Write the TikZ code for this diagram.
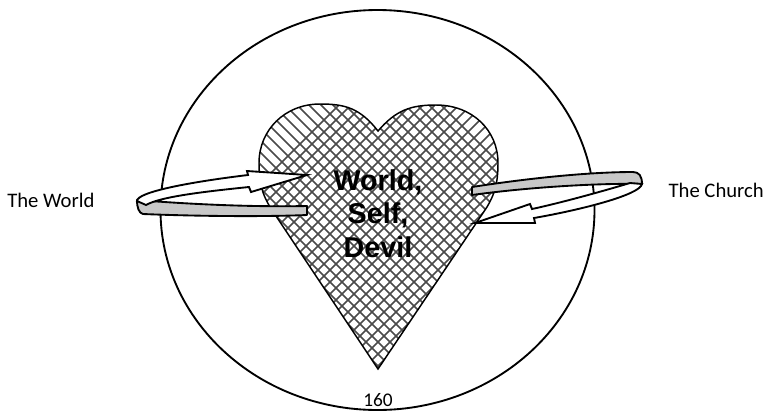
\documentclass[tikz,border=0pt]{standalone}
\usepackage{fontspec}
\setmainfont{Carlito}
\newfontfamily\arialfont{Liberation Sans}
\usepackage{tikz}
\usepackage{xcolor}
\usetikzlibrary{positioning}
\definecolor{bandGray}{HTML}{C8C8C8}
\definecolor{hatchGray}{HTML}{4A4A4A}

\begin{document}
\begin{tikzpicture}[x=0.75pt, y=-0.75pt,
  outline/.style={draw=black, line width=1.4pt},
  band/.style={outline, fill=bandGray, line join=round},
  ribbon/.style={outline, fill=white, line join=miter},
  hatch/.style={draw=hatchGray, line width=1.1pt},
  side/.style={font=\fontsize{15.5}{18}\selectfont, inner sep=0pt},
  sins/.style={font=\arialfont\bfseries\fontsize{21.5}{25.2}\selectfont,
               align=center, inner sep=0pt},
]
  \useasboundingbox (0,0) rectangle (772,412);

  % outer world
  \draw[outline] (377.5,210) ellipse [x radius=217, y radius=200];

  % heart, filled with a diamond hatch
  \coordinate (notch) at (378,131);
  \coordinate (tip) at (378,369);
  \def\heartpath{(notch) .. controls (360,108) and (345,104) .. (320,104)
    .. controls (285,104) and (259,130) .. (259,163)
    .. controls (259,185) and (263,195) .. (270,207) -- (tip) -- (487,207)
    .. controls (494,195) and (498,185) .. (498,163)
    .. controls (498,130) and (472,105) .. (436,105)
    .. controls (411,105) and (396,110) .. (notch) -- cycle}
  \fill[white] \heartpath;
  \begin{scope}
    \clip \heartpath;
    \foreach \k in {0,...,46} {
      \draw[hatch] (\k*12+354,90) -- ++(-290,290);
      \draw[hatch] (\k*12-126,90) -- ++(290,290);
    }
  \end{scope}
  \draw[outline, line width=1.1pt] \heartpath;

  % left loop
  \draw[band] (137,200) .. controls (200,205) and (260,207) .. (307,206)
    -- (307,215) .. controls (260,217) and (190,216) .. (143,214)
    .. controls (139,213) and (137,208) .. (137,200) -- cycle;
  \draw[ribbon] (137,201) .. controls (137,192) and (190,182) .. (248,175)
    -- (247,171) -- (307,175) -- (251,192) -- (249,187)
    .. controls (200,192) and (160,197) .. (146,205) -- cycle;

  % right loop
  \draw[band] (472,187) .. controls (530,178) and (590,172) .. (633,172)
    .. controls (639,172) and (642,176) .. (642,184)
    .. controls (600,183) and (530,187) .. (472,195) -- cycle;
  \draw[ribbon] (630,183) .. controls (600,192) and (560,203) .. (532,209)
    -- (530,204) -- (475,223) -- (535,223) -- (534,218)
    .. controls (580,210) and (640,195) .. (642,184) -- cycle;

  % labels
  \node[sins] (inner) at (378,213.5) {World,\\Self,\\Devil};
  \node[side, anchor=base west] (world) at (7,207) {The World};
  \node[side, anchor=base east] (church) at (764,197) {The Church};
  \node[side, anchor=base, font=\fontsize{14.5}{17}\selectfont] (page) at (378,406) {160};
\end{tikzpicture}
\end{document}
